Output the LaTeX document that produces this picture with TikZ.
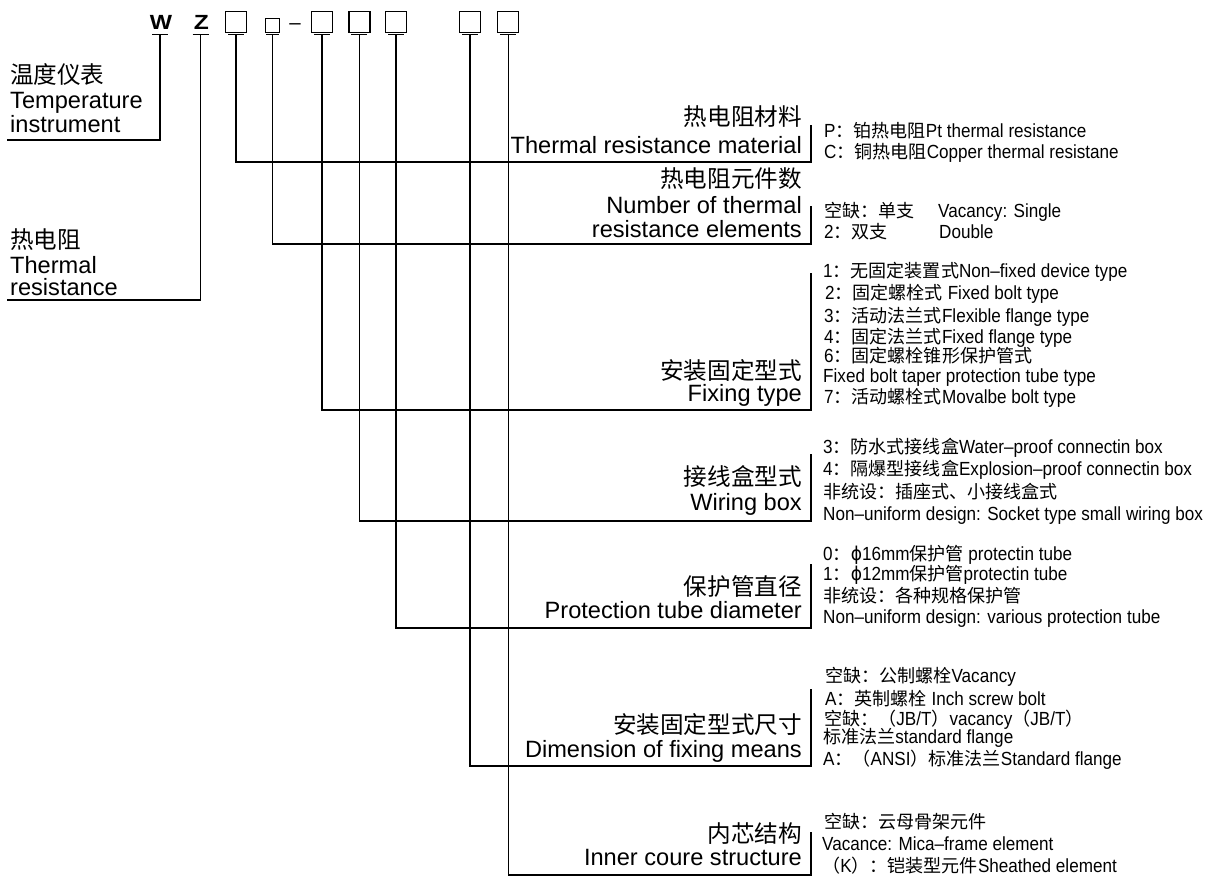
\documentclass[tikz,border=0pt]{standalone}
\usepackage{fontspec}
\setmainfont{Liberation Sans}
\newfontfamily\cjk{Noto Sans CJK SC}
\newfontfamily\optlat[FakeStretch=0.9]{Liberation Sans}
\newfontfamily\optcjk[Scale=0.95]{Noto Sans CJK SC}
\newfontfamily\phifont[FakeStretch=0.9]{DejaVu Sans}
\newcommand\zh[1]{{\cjk #1}}
\newcommand\oz[1]{{\optcjk #1}}
\newcommand\ophi{{\phifont ϕ}}
\begin{document}
\begin{tikzpicture}[x=1pt,y=-1pt,
  lbl/.style={anchor=base east, inner sep=0pt, font=\fontsize{23.6}{26}\selectfont},
  lft/.style={anchor=base west, inner sep=0pt, font=\fontsize{23.6}{26}\selectfont},
  opt/.style={anchor=base west, inner sep=0pt, font=\fontsize{19}{21}\selectfont\optlat},
  code/.style={anchor=base, inner sep=0pt, font=\fontsize{20.5}{21}\selectfont\bfseries},
  slot/.style={draw, line width=1.3pt, minimum width=21pt, minimum height=21pt, inner sep=0pt},
  smallslot/.style={draw, line width=1.3pt, minimum width=13.6pt, minimum height=14.4pt, inner sep=0pt},
  uline/.style={line width=1.8pt},
  conn/.style={line width=1.5pt},
]
\fill[white] (0,0) rectangle (1208,876);
\useasboundingbox (0,0) rectangle (1208,876);

% ---- code row ----
\node[code] (cW) at (161,29.5) {\scalebox{1.15}[1]{W}};
\node[code] (cZ) at (201.5,29.5) {\scalebox{1.2}[1]{Z}};
\node[slot] (k1) at (236.2,22.2) {};
\node[smallslot] (k2) at (272.5,25.5) {};
\node[code] (dash) at (295,29.5) {\mdseries –};
\node[slot] (k3) at (322.2,22.2) {};
\node[slot] (k4) at (359.5,22.2) {};
\node[slot] (k5) at (396,22.2) {};
\node[slot] (k6) at (470,22.2) {};
\node[slot] (k7) at (508.2,22.2) {};

% underline points
\coordinate (uW) at (160,34.5);
\coordinate (uZ) at (200.5,34.5);
\coordinate (u1) at (236,34.5);
\coordinate (u2) at (272.7,34.5);
\coordinate (u3) at (321.8,34.5);
\coordinate (u4) at (359.3,34.5);
\coordinate (u5) at (396,34.5);
\coordinate (u6) at (470,34.5);
\coordinate (u7) at (508.3,34.5);
\foreach \u in {uW,uZ,u1,u3,u4,u5,u6,u7}
  \draw[uline] ([xshift=-8pt]\u) -- ([xshift=8pt]\u);
\draw[uline] ([xshift=-6.5pt]u2) -- ([xshift=6.5pt]u2);

% ---- left labels ----
\node[lft] (tw1) at (10,83) {\zh{温度仪表}};
\node[lft] (tw2) at (10,108) {Temperature};
\node[lft] (tw3) at (10,132) {instrument};
\node[lft] (tz1) at (10,248) {\zh{热电阻}};
\node[lft] (tz2) at (10,273) {Thermal};
\node[lft] (tz3) at (10,295) {resistance};
\coordinate (eW) at (7,140);
\coordinate (eZ) at (7,300);
\draw[conn] (uW) |- (eW);
\draw[conn] (uZ) |- (eZ);

% ---- bracket ends ----
\coordinate (b1) at (811,162);  \coordinate (t1) at (811,125);
\coordinate (b2) at (811,244);  \coordinate (t2) at (811,206);
\coordinate (b3) at (811,410);  \coordinate (t3) at (811,273);
\coordinate (b4) at (811,521);  \coordinate (t4) at (811,454);
\coordinate (b5) at (811,628);  \coordinate (t5) at (811,564);
\coordinate (b6) at (811,766);  \coordinate (t6) at (811,689);
\coordinate (b7) at (811,875);  \coordinate (t7) at (811,832);
\foreach \i in {1,...,7}
  \draw[conn] (u\i) |- (b\i) -- (t\i);

% ---- category labels ----
\node[lbl] (l1a) at (802,125) {\zh{热电阻材料}};
\node[lbl] (l1b) at (802,153) {Thermal resistance material};
\node[lbl] (l2a) at (802,187) {\zh{热电阻元件数}};
\node[lbl] (l2b) at (802,213) {Number of thermal};
\node[lbl] (l2c) at (802,237) {resistance elements};
\node[lbl] (l3a) at (802,379) {\zh{安装固定型式}};
\node[lbl] (l3b) at (802,401) {Fixing type};
\node[lbl] (l4a) at (802,485) {\zh{接线盒型式}};
\node[lbl] (l4b) at (802,510) {Wiring box};
\node[lbl] (l5a) at (802,595) {\zh{保护管直径}};
\node[lbl] (l5b) at (802,618) {Protection tube diameter};
\node[lbl] (l6a) at (802,733) {\zh{安装固定型式尺寸}};
\node[lbl] (l6b) at (802,757) {Dimension of fixing means};
\node[lbl] (l7a) at (802,842) {\zh{内芯结构}};
\node[lbl] (l7b) at (802,865) {Inner coure structure};

% ---- options ----
\node[opt] (o1a) at (824,137) {P\oz{：铂热电阻}Pt thermal resistance};
\node[opt] (o1b) at (824,158) {C\oz{：铜热电阻}Copper thermal resistane};

\node[opt] (o2a) at (824,217) {\makebox[114pt][l]{\oz{空缺：单支}}Vacancy: Single};
\node[opt] (o2b) at (824,238) {\makebox[115pt][l]{2\oz{：双支}}Double};

\node[opt] (o3a) at (823,277) {1\oz{：无固定装置式}Non–fixed device type};
\node[opt] (o3b) at (825,299) {2\oz{：固定螺栓式} Fixed bolt type};
\node[opt] (o3c) at (824,322) {3\oz{：活动法兰式}Flexible flange type};
\node[opt] (o3d) at (824,343) {4\oz{：固定法兰式}Fixed flange type};
\node[opt] (o3e) at (824,362) {6\oz{：固定螺栓锥形保护管式}};
\node[opt] (o3f) at (823,382) {Fixed bolt taper protection tube type};
\node[opt] (o3g) at (824,403) {7\oz{：活动螺栓式}Movalbe bolt type};

\node[opt] (o4a) at (823,453) {3\oz{：防水式接线盒}Water–proof connectin box};
\node[opt] (o4b) at (823,475) {4\oz{：隔爆型接线盒}Explosion–proof connectin box};
\node[opt] (o4c) at (823,498) {\oz{非统设：插座式、小接线盒式}};
\node[opt] (o4d) at (823,520) {Non–uniform design: Socket type small wiring box};

\node[opt] (o5a) at (823,560) {0\oz{：}\ophi 16mm\oz{保护管} protectin tube};
\node[opt] (o5b) at (823,580) {1\oz{：}\ophi 12mm\oz{保护管}protectin tube};
\node[opt] (o5c) at (823,602) {\oz{非统设：各种规格保护管}};
\node[opt] (o5d) at (823,623) {Non–uniform design: various protection tube};

\node[opt] (o6a) at (825,682) {\oz{空缺：公制螺栓}Vacancy};
\node[opt] (o6b) at (825,705) {A\oz{：英制螺栓} Inch screw bolt};
\node[opt] (o6c) at (824,725) {\oz{空缺：（}JB/T\oz{）}vacancy\oz{（}JB/T\oz{）}};
\node[opt] (o6d) at (823,743) {\oz{标准法兰}standard flange};
\node[opt] (o6e) at (823,765) {A\oz{：（}ANSI\oz{）标准法兰}Standard flange};

\node[opt] (o7a) at (824,828) {\oz{空缺：云母骨架元件}};
\node[opt] (o7b) at (822,850) {Vacance: Mica–frame element};
\node[opt] (o7c) at (822,872) {\oz{（}K\oz{）：铠装型元件}Sheathed element};
\end{tikzpicture}
\end{document}
